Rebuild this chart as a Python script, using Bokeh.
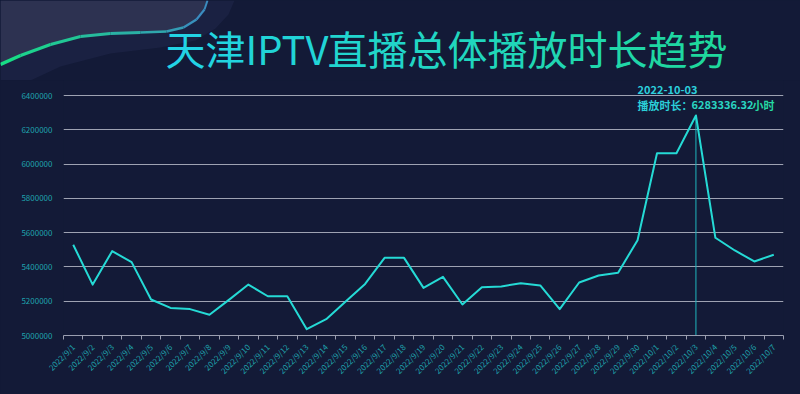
import math
from bokeh.plotting import figure
from bokeh.layouts import column
from bokeh.models import (FactorRange, Range1d, LinearAxis, FixedTicker,
                          BasicTickFormatter, Label, PolyAnnotation, ColumnDataSource)
from bokeh.embed import file_html
from bokeh.resources import INLINE

# ---------------- data ----------------
dates = ["2022/9/1", "2022/9/2", "2022/9/3", "2022/9/4", "2022/9/5", "2022/9/6", "2022/9/7",
         "2022/9/8", "2022/9/9", "2022/9/10", "2022/9/11", "2022/9/12", "2022/9/13", "2022/9/14",
         "2022/9/15", "2022/9/16", "2022/9/17", "2022/9/18", "2022/9/19", "2022/9/20", "2022/9/21",
         "2022/9/22", "2022/9/23", "2022/9/24", "2022/9/25", "2022/9/26", "2022/9/27", "2022/9/28",
         "2022/9/29", "2022/9/30", "2022/10/1", "2022/10/2", "2022/10/3", "2022/10/4", "2022/10/5",
         "2022/10/6", "2022/10/7"]
play_hours = [5529000, 5297000, 5492000, 5428000, 5210000, 5161000, 5154000,
              5121000, 5208000, 5297000, 5229000, 5229000, 5037000, 5095000,
              5198000, 5301000, 5453000, 5453000, 5278000, 5342000, 5181000,
              5282000, 5286000, 5305000, 5292000, 5154000, 5309000, 5350000,
              5366000, 5556000, 6063000, 6063000, 6283336.32, 5570000, 5496000,
              5432000, 5471000]
y_ticks = [5000000, 5200000, 5400000, 5600000, 5800000, 6000000, 6200000, 6400000]
title_text = "天津IPTV直播总体播放时长趋势"
series_name = "播放时长"
unit = "小时"

# ---------------- style / layout ----------------
BG = "#131a37"
LABEL = "#1fa3ad"
AXIS = "#9a9eb0"
GRID = "#9ea2b2"
LINE = "#25dad5"
FONT = "Noto Sans CJK SC"
W, H = 800, 394
HEAD = 80                                   # height of the header strip
FRAME_L, FRAME_R, GRID_TOP, FRAME_B = 63, 783, 95, 335   # page-pixel layout of the plot area


def hexmix(c1, c2, t):
    a = [int(c1[i:i + 2], 16) for i in (1, 3, 5)]
    b = [int(c2[i:i + 2], 16) for i in (1, 3, 5)]
    return "#%02x%02x%02x" % tuple(round(a[k] + (b[k] - a[k]) * t) for k in range(3))


# ================= header: decoration + title =================
head = figure(width=W, height=HEAD, x_range=Range1d(0, W), y_range=Range1d(HEAD, 0),
              output_backend="svg", toolbar_location=None,
              x_axis_location=None, y_axis_location=None,
              min_border=0, background_fill_color=BG, border_fill_color=BG,
              outline_line_color=None, frame_align=False)
head.grid.visible = False


def poly(fig, pts, **kw):
    fig.add_layout(PolyAnnotation(xs=[x for x, _ in pts], ys=[y for _, y in pts],
                                  xs_units="canvas", ys_units="canvas", **kw))


poly(head, [(0, 0), (234, 0), (228, 14), (215, 28), (195, 40), (160, 47), (110, 53),
            (60, 66), (30, 80), (0, 80)],
     fill_color="#1a2142", fill_alpha=1, line_color=None)
poly(head, [(0, 0), (207, 0), (204, 9), (196, 19), (183, 27), (166, 31), (140, 32), (110, 33),
            (80, 36), (50, 45), (20, 55), (0, 64)],
     fill_color="#2d3251", fill_alpha=1, line_color=None)
curve = [(0, 64), (20, 55), (50, 44), (80, 36), (110, 33), (140, 32), (166, 31), (183, 27),
         (196, 19), (204, 9), (207, 0)]
n = len(curve) - 1
for k in range(n):
    t = k / (n - 1)
    poly(head, [curve[k], curve[k + 1]], fill_alpha=0,
         line_color=hexmix("#18dc86", "#3a8cc0", min(1.0, t * 1.2)), line_alpha=1,
         line_width=3.4 - 1.4 * t, line_join="round")

fs = 40
pieces = ["天", "津", "IPTV", "直", "播", "总", "体", "播", "放", "时", "长", "趋", "势"]
adv = [1, 1, 2.05, 1, 1, 1, 1, 1, 1, 1, 1, 1, 1]
total = sum(adv)
x = 165
acc = 0
for piece, a in zip(pieces, adv):
    t = (acc + a / 2) / total
    head.add_layout(Label(x=x, y=47, x_units="canvas", y_units="canvas",
                          text=piece, text_font=FONT, text_font_size="%dpx" % fs,
                          text_color=hexmix("#22d3e8", "#1fd89a", t),
                          text_align="left", text_baseline="middle"))
    x += a * fs
    acc += a

# ================= chart =================
CH = H - HEAD
# frame reaches the top of the chart strip so the tooltip text sits inside it;
# the value ticks 5000000..6400000 stay at the reference positions
y_end = y_ticks[0] + (y_ticks[-1] - y_ticks[0]) * (FRAME_B - HEAD) / (FRAME_B - GRID_TOP)

p = figure(width=W, height=CH,
           x_range=FactorRange(factors=dates, range_padding=0),
           y_range=Range1d(y_ticks[0], y_end),
           output_backend="svg", toolbar_location=None,
           x_axis_location=None, y_axis_location=None,
           min_border_left=FRAME_L, min_border_right=W - FRAME_R,
           min_border_top=0, min_border_bottom=H - FRAME_B,
           background_fill_color=BG, border_fill_color=BG, outline_line_color=None,
           frame_align=False)

p.xgrid.visible = False
p.ygrid.ticker = FixedTicker(ticks=y_ticks)
p.ygrid.grid_line_color = GRID
p.ygrid.grid_line_width = 1

yaxis = LinearAxis(ticker=FixedTicker(ticks=y_ticks, minor_ticks=[]),
                   formatter=BasicTickFormatter(use_scientific=False),
                   axis_line_color=None, major_tick_line_color=None, minor_tick_line_color=None,
                   major_label_text_color=LABEL, major_label_text_font=FONT,
                   major_label_text_font_size="8px", major_label_standoff=5)
p.add_layout(yaxis, "left")

# category axis: labels at category centres, small ticks on the category boundaries
centres = [i + 0.5 for i in range(len(dates))]
bounds = list(range(len(dates) + 1))
xaxis = LinearAxis(ticker=FixedTicker(ticks=centres, minor_ticks=bounds),
                   major_label_overrides={c: d for c, d in zip(centres, dates)},
                   axis_line_color=AXIS, axis_line_width=1,
                   major_tick_line_color=None, major_tick_out=0, major_tick_in=0,
                   minor_tick_line_color=AXIS, minor_tick_out=4, minor_tick_in=0,
                   major_label_orientation=math.pi / 4,
                   major_label_text_color=LABEL, major_label_text_font=FONT,
                   major_label_text_font_size="8px", major_label_standoff=6)
p.add_layout(xaxis, "below")

src = ColumnDataSource(dict(d=dates, v=play_hours))

peak_i = play_hours.index(max(play_hours))
p.segment(x0=[dates[peak_i]], y0=[y_ticks[0]], x1=[dates[peak_i]], y1=[play_hours[peak_i]],
          line_color="#1fb5bd", line_width=1)
p.line(x="d", y="v", source=src, line_color=LINE, line_width=2, line_join="round")

# tooltip texts (canvas coordinates of the chart strip)
y_, m_, d_ = dates[peak_i].split("/")
date_str = "%s-%02d-%02d" % (y_, int(m_), int(d_))
p.add_layout(Label(x=637, y=89 - HEAD, x_units="canvas", y_units="canvas",
                   text=date_str, text_font=FONT, text_font_size="11px", text_font_style="bold",
                   text_color="#2ccfdc", text_align="left", text_baseline="middle"))
tip_parts = [(series_name + "：", 637, "#2bcfd8"),
             ("%.2f" % play_hours[peak_i], 691, "#2ad4c2"),
             (unit, 752, "#25d8a2")]
for txt, tx, col in tip_parts:
    p.add_layout(Label(x=tx, y=104 - HEAD, x_units="canvas", y_units="canvas",
                       text=txt, text_font=FONT, text_font_size="11px", text_font_style="bold",
                       text_color=col, text_align="left", text_baseline="middle"))

layout = column(head, p, spacing=0)
html = file_html(layout, INLINE, title=title_text)
html = html.replace("</head>", "<style>html, body { background: %s; }</style></head>" % BG, 1)
open("out.html", "w").write(html)
